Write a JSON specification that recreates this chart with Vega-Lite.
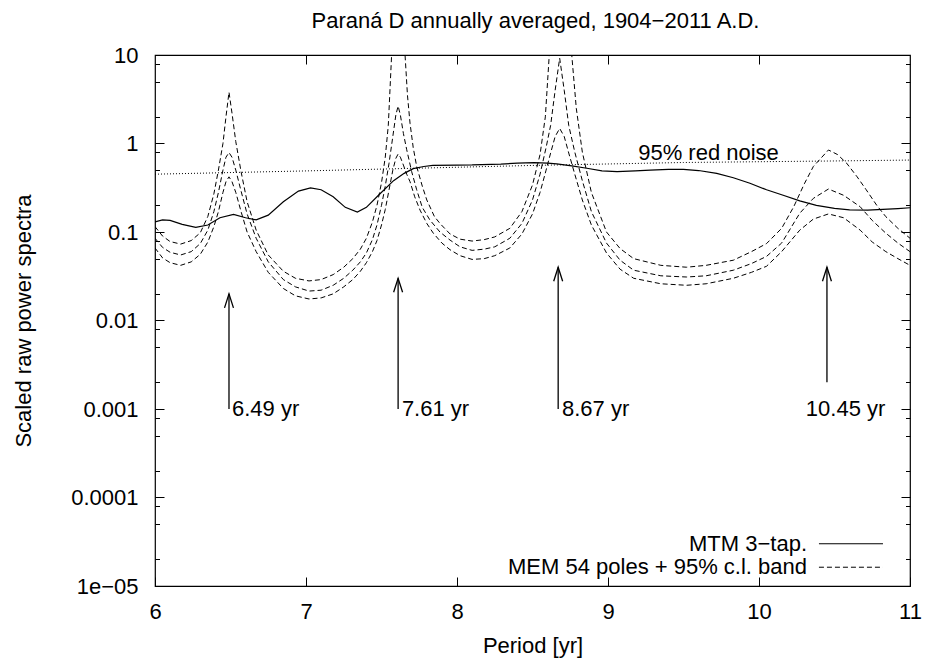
{
  "$schema": "https://vega.github.io/schema/vega-lite/v6.json",
  "width": 755,
  "height": 531,
  "autosize": {"type": "none"},
  "padding": {"left": 155, "top": 55, "right": 16, "bottom": 78},
  "background": "white",
  "title": {"text": "Paraná  D annually averaged, 1904−2011 A.D.", "font": "Liberation Sans", "fontSize": 22, "fontWeight": "normal", "color": "black", "anchor": "middle", "frame": "group", "offset": 11, "dx": 3},
  "config": {
    "font": "Liberation Sans",
    "view": {"stroke": "black", "strokeWidth": 1.2},
    "axis": {"labelFont": "Liberation Sans", "labelFontSize": 22, "labelColor": "black", "tickColor": "black", "tickWidth": 1, "titleFont": "Liberation Sans", "titleFontSize": 22, "titleFontWeight": "normal", "titleColor": "black", "grid": false, "domain": false}
  },
  "datasets": {
    "rednoise": [
      {"p": 6.0, "v": 0.45}, {"p": 7.0, "v": 0.49}, {"p": 7.82, "v": 0.53}, {"p": 8.5, "v": 0.565},
      {"p": 9.5, "v": 0.61}, {"p": 10.5, "v": 0.635}, {"p": 11.0, "v": 0.65}
    ],
    "mtm": [
      {"p": 6.0, "v": 0.13}, {"p": 6.05, "v": 0.137}, {"p": 6.1, "v": 0.135}, {"p": 6.18, "v": 0.122},
      {"p": 6.27, "v": 0.113}, {"p": 6.35, "v": 0.12}, {"p": 6.43, "v": 0.145}, {"p": 6.52, "v": 0.158},
      {"p": 6.6, "v": 0.145}, {"p": 6.67, "v": 0.137}, {"p": 6.75, "v": 0.155}, {"p": 6.85, "v": 0.22},
      {"p": 6.95, "v": 0.29}, {"p": 7.03, "v": 0.315}, {"p": 7.1, "v": 0.3}, {"p": 7.18, "v": 0.25},
      {"p": 7.26, "v": 0.19}, {"p": 7.34, "v": 0.168}, {"p": 7.4, "v": 0.19}, {"p": 7.48, "v": 0.26},
      {"p": 7.58, "v": 0.38}, {"p": 7.65, "v": 0.46}, {"p": 7.71, "v": 0.52}, {"p": 7.78, "v": 0.55},
      {"p": 7.84, "v": 0.565}, {"p": 8.0, "v": 0.57}, {"p": 8.1, "v": 0.572}, {"p": 8.29, "v": 0.586},
      {"p": 8.4, "v": 0.6}, {"p": 8.51, "v": 0.607}, {"p": 8.6, "v": 0.6}, {"p": 8.66, "v": 0.588},
      {"p": 8.76, "v": 0.56}, {"p": 8.86, "v": 0.525}, {"p": 8.96, "v": 0.49}, {"p": 9.06, "v": 0.48},
      {"p": 9.18, "v": 0.49}, {"p": 9.28, "v": 0.5}, {"p": 9.4, "v": 0.51}, {"p": 9.5, "v": 0.51},
      {"p": 9.6, "v": 0.495}, {"p": 9.72, "v": 0.46}, {"p": 9.83, "v": 0.41}, {"p": 9.94, "v": 0.355},
      {"p": 10.05, "v": 0.3}, {"p": 10.16, "v": 0.26}, {"p": 10.27, "v": 0.225}, {"p": 10.38, "v": 0.2},
      {"p": 10.5, "v": 0.185}, {"p": 10.6, "v": 0.178}, {"p": 10.72, "v": 0.177}, {"p": 10.82, "v": 0.18},
      {"p": 10.92, "v": 0.184}, {"p": 11.0, "v": 0.188}
    ],
    "mem": [
      {"band": "upper", "p": 6.0, "v": 0.115}, {"band": "upper", "p": 6.05, "v": 0.09}, {"band": "upper", "p": 6.1, "v": 0.078},
      {"band": "upper", "p": 6.17, "v": 0.073}, {"band": "upper", "p": 6.24, "v": 0.08}, {"band": "upper", "p": 6.3, "v": 0.098},
      {"band": "upper", "p": 6.35, "v": 0.15}, {"band": "upper", "p": 6.39, "v": 0.27}, {"band": "upper", "p": 6.42, "v": 0.5},
      {"band": "upper", "p": 6.45, "v": 1.0}, {"band": "upper", "p": 6.47, "v": 2.0}, {"band": "upper", "p": 6.49, "v": 3.8},
      {"band": "upper", "p": 6.51, "v": 2.2}, {"band": "upper", "p": 6.535, "v": 1.05}, {"band": "upper", "p": 6.57, "v": 0.48},
      {"band": "upper", "p": 6.61, "v": 0.22}, {"band": "upper", "p": 6.67, "v": 0.105}, {"band": "upper", "p": 6.75, "v": 0.055},
      {"band": "upper", "p": 6.85, "v": 0.036}, {"band": "upper", "p": 6.93, "v": 0.03}, {"band": "upper", "p": 7.02, "v": 0.028},
      {"band": "upper", "p": 7.1, "v": 0.029}, {"band": "upper", "p": 7.18, "v": 0.033}, {"band": "upper", "p": 7.25, "v": 0.04},
      {"band": "upper", "p": 7.31, "v": 0.05}, {"band": "upper", "p": 7.36, "v": 0.064}, {"band": "upper", "p": 7.4, "v": 0.085},
      {"band": "upper", "p": 7.44, "v": 0.13}, {"band": "upper", "p": 7.47, "v": 0.2}, {"band": "upper", "p": 7.5, "v": 0.36},
      {"band": "upper", "p": 7.525, "v": 0.7}, {"band": "upper", "p": 7.545, "v": 1.6}, {"band": "upper", "p": 7.567, "v": 10},
      {"band": "upper", "p": 7.59, "v": 40}, {"band": "upper", "p": 7.61, "v": 80}, {"band": "upper", "p": 7.635, "v": 40},
      {"band": "upper", "p": 7.656, "v": 10}, {"band": "upper", "p": 7.672, "v": 3.5}, {"band": "upper", "p": 7.689, "v": 1.69},
      {"band": "upper", "p": 7.71, "v": 0.9}, {"band": "upper", "p": 7.733, "v": 0.55}, {"band": "upper", "p": 7.77, "v": 0.33},
      {"band": "upper", "p": 7.8, "v": 0.23}, {"band": "upper", "p": 7.85, "v": 0.15}, {"band": "upper", "p": 7.887, "v": 0.125},
      {"band": "upper", "p": 7.954, "v": 0.095}, {"band": "upper", "p": 8.02, "v": 0.083}, {"band": "upper", "p": 8.1, "v": 0.079},
      {"band": "upper", "p": 8.18, "v": 0.082}, {"band": "upper", "p": 8.25, "v": 0.088}, {"band": "upper", "p": 8.35, "v": 0.11},
      {"band": "upper", "p": 8.43, "v": 0.17}, {"band": "upper", "p": 8.5, "v": 0.34}, {"band": "upper", "p": 8.55, "v": 0.75},
      {"band": "upper", "p": 8.585, "v": 2.0}, {"band": "upper", "p": 8.611, "v": 10}, {"band": "upper", "p": 8.64, "v": 40},
      {"band": "upper", "p": 8.68, "v": 80}, {"band": "upper", "p": 8.72, "v": 40}, {"band": "upper", "p": 8.76, "v": 10},
      {"band": "upper", "p": 8.79, "v": 2.5}, {"band": "upper", "p": 8.83, "v": 0.8}, {"band": "upper", "p": 8.89, "v": 0.28},
      {"band": "upper", "p": 8.99, "v": 0.1}, {"band": "upper", "p": 9.08, "v": 0.065}, {"band": "upper", "p": 9.17, "v": 0.05},
      {"band": "upper", "p": 9.35, "v": 0.042}, {"band": "upper", "p": 9.52, "v": 0.04}, {"band": "upper", "p": 9.65, "v": 0.042},
      {"band": "upper", "p": 9.83, "v": 0.048}, {"band": "upper", "p": 9.95, "v": 0.06}, {"band": "upper", "p": 10.05, "v": 0.074},
      {"band": "upper", "p": 10.15, "v": 0.11}, {"band": "upper", "p": 10.23, "v": 0.193}, {"band": "upper", "p": 10.3, "v": 0.35},
      {"band": "upper", "p": 10.36, "v": 0.55}, {"band": "upper", "p": 10.46, "v": 0.845}, {"band": "upper", "p": 10.52, "v": 0.75},
      {"band": "upper", "p": 10.58, "v": 0.6}, {"band": "upper", "p": 10.65, "v": 0.42}, {"band": "upper", "p": 10.71, "v": 0.3},
      {"band": "upper", "p": 10.78, "v": 0.2}, {"band": "upper", "p": 10.84, "v": 0.149}, {"band": "upper", "p": 10.92, "v": 0.11},
      {"band": "upper", "p": 11.0, "v": 0.085},

      {"band": "mem", "p": 6.0, "v": 0.085}, {"band": "mem", "p": 6.05, "v": 0.067}, {"band": "mem", "p": 6.1, "v": 0.059},
      {"band": "mem", "p": 6.17, "v": 0.055}, {"band": "mem", "p": 6.24, "v": 0.06}, {"band": "mem", "p": 6.3, "v": 0.074},
      {"band": "mem", "p": 6.35, "v": 0.105}, {"band": "mem", "p": 6.39, "v": 0.17}, {"band": "mem", "p": 6.42, "v": 0.28},
      {"band": "mem", "p": 6.45, "v": 0.5}, {"band": "mem", "p": 6.47, "v": 0.7}, {"band": "mem", "p": 6.49, "v": 0.79},
      {"band": "mem", "p": 6.51, "v": 0.7}, {"band": "mem", "p": 6.535, "v": 0.5}, {"band": "mem", "p": 6.57, "v": 0.29},
      {"band": "mem", "p": 6.61, "v": 0.16}, {"band": "mem", "p": 6.67, "v": 0.085}, {"band": "mem", "p": 6.75, "v": 0.046},
      {"band": "mem", "p": 6.85, "v": 0.029}, {"band": "mem", "p": 6.93, "v": 0.024}, {"band": "mem", "p": 7.02, "v": 0.0215},
      {"band": "mem", "p": 7.1, "v": 0.022}, {"band": "mem", "p": 7.18, "v": 0.025}, {"band": "mem", "p": 7.25, "v": 0.03},
      {"band": "mem", "p": 7.31, "v": 0.037}, {"band": "mem", "p": 7.36, "v": 0.046}, {"band": "mem", "p": 7.4, "v": 0.058},
      {"band": "mem", "p": 7.44, "v": 0.082}, {"band": "mem", "p": 7.47, "v": 0.12}, {"band": "mem", "p": 7.5, "v": 0.2},
      {"band": "mem", "p": 7.525, "v": 0.33}, {"band": "mem", "p": 7.55, "v": 0.6}, {"band": "mem", "p": 7.575, "v": 1.2},
      {"band": "mem", "p": 7.595, "v": 2.1}, {"band": "mem", "p": 7.61, "v": 2.65}, {"band": "mem", "p": 7.625, "v": 2.1},
      {"band": "mem", "p": 7.645, "v": 1.3}, {"band": "mem", "p": 7.667, "v": 0.85}, {"band": "mem", "p": 7.7, "v": 0.48},
      {"band": "mem", "p": 7.733, "v": 0.3}, {"band": "mem", "p": 7.77, "v": 0.19}, {"band": "mem", "p": 7.82, "v": 0.137},
      {"band": "mem", "p": 7.887, "v": 0.1}, {"band": "mem", "p": 7.954, "v": 0.081}, {"band": "mem", "p": 8.02, "v": 0.068},
      {"band": "mem", "p": 8.1, "v": 0.062}, {"band": "mem", "p": 8.18, "v": 0.064}, {"band": "mem", "p": 8.25, "v": 0.068},
      {"band": "mem", "p": 8.35, "v": 0.085}, {"band": "mem", "p": 8.43, "v": 0.125}, {"band": "mem", "p": 8.5, "v": 0.23},
      {"band": "mem", "p": 8.55, "v": 0.45}, {"band": "mem", "p": 8.59, "v": 0.9}, {"band": "mem", "p": 8.62, "v": 1.6},
      {"band": "mem", "p": 8.65, "v": 4.0}, {"band": "mem", "p": 8.68, "v": 9.2}, {"band": "mem", "p": 8.71, "v": 4.0},
      {"band": "mem", "p": 8.74, "v": 1.6}, {"band": "mem", "p": 8.78, "v": 0.8}, {"band": "mem", "p": 8.83, "v": 0.38},
      {"band": "mem", "p": 8.89, "v": 0.17}, {"band": "mem", "p": 8.99, "v": 0.075}, {"band": "mem", "p": 9.08, "v": 0.048},
      {"band": "mem", "p": 9.17, "v": 0.037}, {"band": "mem", "p": 9.35, "v": 0.032}, {"band": "mem", "p": 9.52, "v": 0.031},
      {"band": "mem", "p": 9.65, "v": 0.032}, {"band": "mem", "p": 9.83, "v": 0.037}, {"band": "mem", "p": 9.95, "v": 0.044},
      {"band": "mem", "p": 10.05, "v": 0.053}, {"band": "mem", "p": 10.15, "v": 0.075}, {"band": "mem", "p": 10.27, "v": 0.163},
      {"band": "mem", "p": 10.36, "v": 0.24}, {"band": "mem", "p": 10.46, "v": 0.306}, {"band": "mem", "p": 10.56, "v": 0.26},
      {"band": "mem", "p": 10.67, "v": 0.193}, {"band": "mem", "p": 10.75, "v": 0.135}, {"band": "mem", "p": 10.84, "v": 0.097},
      {"band": "mem", "p": 10.92, "v": 0.075}, {"band": "mem", "p": 11.0, "v": 0.06},

      {"band": "lower", "p": 6.0, "v": 0.066}, {"band": "lower", "p": 6.05, "v": 0.051}, {"band": "lower", "p": 6.1, "v": 0.045},
      {"band": "lower", "p": 6.17, "v": 0.042}, {"band": "lower", "p": 6.24, "v": 0.046}, {"band": "lower", "p": 6.3, "v": 0.056},
      {"band": "lower", "p": 6.35, "v": 0.077}, {"band": "lower", "p": 6.39, "v": 0.115}, {"band": "lower", "p": 6.42, "v": 0.17},
      {"band": "lower", "p": 6.45, "v": 0.28}, {"band": "lower", "p": 6.47, "v": 0.37}, {"band": "lower", "p": 6.49, "v": 0.42},
      {"band": "lower", "p": 6.51, "v": 0.37}, {"band": "lower", "p": 6.535, "v": 0.28}, {"band": "lower", "p": 6.57, "v": 0.17},
      {"band": "lower", "p": 6.61, "v": 0.1}, {"band": "lower", "p": 6.67, "v": 0.06}, {"band": "lower", "p": 6.75, "v": 0.035},
      {"band": "lower", "p": 6.85, "v": 0.023}, {"band": "lower", "p": 6.93, "v": 0.019}, {"band": "lower", "p": 7.02, "v": 0.0175},
      {"band": "lower", "p": 7.1, "v": 0.018}, {"band": "lower", "p": 7.18, "v": 0.02}, {"band": "lower", "p": 7.25, "v": 0.024},
      {"band": "lower", "p": 7.31, "v": 0.029}, {"band": "lower", "p": 7.36, "v": 0.036}, {"band": "lower", "p": 7.4, "v": 0.045},
      {"band": "lower", "p": 7.44, "v": 0.06}, {"band": "lower", "p": 7.47, "v": 0.08}, {"band": "lower", "p": 7.5, "v": 0.12},
      {"band": "lower", "p": 7.525, "v": 0.18}, {"band": "lower", "p": 7.55, "v": 0.3}, {"band": "lower", "p": 7.575, "v": 0.5},
      {"band": "lower", "p": 7.595, "v": 0.68}, {"band": "lower", "p": 7.61, "v": 0.76}, {"band": "lower", "p": 7.625, "v": 0.7},
      {"band": "lower", "p": 7.645, "v": 0.57}, {"band": "lower", "p": 7.667, "v": 0.45}, {"band": "lower", "p": 7.689, "v": 0.37},
      {"band": "lower", "p": 7.72, "v": 0.25}, {"band": "lower", "p": 7.755, "v": 0.177}, {"band": "lower", "p": 7.8, "v": 0.125},
      {"band": "lower", "p": 7.843, "v": 0.097}, {"band": "lower", "p": 7.9, "v": 0.075}, {"band": "lower", "p": 7.954, "v": 0.063},
      {"band": "lower", "p": 8.02, "v": 0.054}, {"band": "lower", "p": 8.1, "v": 0.049}, {"band": "lower", "p": 8.18, "v": 0.05},
      {"band": "lower", "p": 8.25, "v": 0.054}, {"band": "lower", "p": 8.35, "v": 0.066}, {"band": "lower", "p": 8.43, "v": 0.095},
      {"band": "lower", "p": 8.5, "v": 0.16}, {"band": "lower", "p": 8.55, "v": 0.28}, {"band": "lower", "p": 8.59, "v": 0.5},
      {"band": "lower", "p": 8.62, "v": 0.78}, {"band": "lower", "p": 8.65, "v": 1.2}, {"band": "lower", "p": 8.68, "v": 1.48},
      {"band": "lower", "p": 8.71, "v": 1.2}, {"band": "lower", "p": 8.74, "v": 0.78}, {"band": "lower", "p": 8.78, "v": 0.45},
      {"band": "lower", "p": 8.83, "v": 0.23}, {"band": "lower", "p": 8.89, "v": 0.12}, {"band": "lower", "p": 8.99, "v": 0.058},
      {"band": "lower", "p": 9.08, "v": 0.038}, {"band": "lower", "p": 9.17, "v": 0.03}, {"band": "lower", "p": 9.35, "v": 0.026},
      {"band": "lower", "p": 9.52, "v": 0.025}, {"band": "lower", "p": 9.65, "v": 0.026}, {"band": "lower", "p": 9.83, "v": 0.03},
      {"band": "lower", "p": 9.95, "v": 0.035}, {"band": "lower", "p": 10.05, "v": 0.041}, {"band": "lower", "p": 10.15, "v": 0.06},
      {"band": "lower", "p": 10.27, "v": 0.105}, {"band": "lower", "p": 10.36, "v": 0.14}, {"band": "lower", "p": 10.46, "v": 0.16},
      {"band": "lower", "p": 10.56, "v": 0.145}, {"band": "lower", "p": 10.67, "v": 0.105}, {"band": "lower", "p": 10.75, "v": 0.077},
      {"band": "lower", "p": 10.84, "v": 0.06}, {"band": "lower", "p": 10.92, "v": 0.05}, {"band": "lower", "p": 11.0, "v": 0.042}
    ],
    "arrows": [
      {"p": 6.49, "from": 0.001, "to": 0.02, "label": "6.49 yr", "lx": 6.51, "ly": 0.001},
      {"p": 7.61, "from": 0.001, "to": 0.03, "label": "7.61 yr", "lx": 7.635, "ly": 0.001},
      {"p": 8.67, "from": 0.001, "to": 0.04, "label": "8.67 yr", "lx": 8.695, "ly": 0.001},
      {"p": 10.45, "from": 0.002, "to": 0.04, "label": "10.45 yr", "lx": 10.31, "ly": 0.001}
    ]
  },
  "resolve": {"scale": {"x": "shared", "y": "shared"}, "axis": {"x": "independent", "y": "independent"}},
  "layer": [
    {
      "data": {"name": "rednoise"},
      "mark": {"type": "line", "color": "black", "strokeWidth": 1, "strokeDash": [1, 2], "clip": true},
      "encoding": {
        "x": {"field": "p", "type": "quantitative", "scale": {"domain": [6, 11], "nice": false, "zero": false},
          "axis": {"orient": "bottom", "values": [6, 7, 8, 9, 10, 11], "format": "d", "tickSize": -9, "labelPadding": 24.5, "labelFlush": false, "labelOverlap": false, "labelBound": false, "title": "Period [yr]", "titleY": 59, "titleBaseline": "middle"}},
        "y": {"field": "v", "type": "quantitative", "scale": {"type": "log", "domain": [0.00001, 10], "nice": false},
          "axis": {"orient": "left", "values": [0.00001, 0.0001, 0.001, 0.01, 0.1, 1, 10], "tickSize": -9, "labelPadding": 26, "labelFlush": false, "labelOverlap": false, "labelBound": false, "labelExpr": "datum.value < 0.00005 ? '1e−05' : format(datum.value, '~g')", "title": "Scaled raw power spectra", "titleX": -132, "titleY": 265.5, "titleAngle": -90, "titleBaseline": "middle", "titleAlign": "center"}}
      }
    },
    {
      "data": {"name": "mtm"},
      "mark": {"type": "line", "color": "black", "strokeWidth": 1.2, "clip": true},
      "encoding": {
        "x": {"field": "p", "type": "quantitative", "scale": {"domain": [6, 11], "nice": false, "zero": false},
          "axis": {"orient": "top", "values": [7, 8, 9, 10], "tickSize": -9, "labels": false, "title": null}},
        "y": {"field": "v", "type": "quantitative", "scale": {"type": "log", "domain": [0.00001, 10], "nice": false},
          "axis": {"orient": "right", "values": [0.0001, 0.001, 0.01, 0.1, 1], "tickSize": -9, "labels": false, "title": null}}
      }
    },
    {
      "data": {"name": "mem"},
      "mark": {"type": "line", "color": "black", "strokeWidth": 1, "strokeDash": [5, 3], "clip": true},
      "encoding": {
        "detail": {"field": "band"},
        "x": {"field": "p", "type": "quantitative", "scale": {"domain": [6, 11], "nice": false, "zero": false}, "axis": null},
        "y": {"field": "v", "type": "quantitative", "scale": {"type": "log", "domain": [0.00001, 10], "nice": false},
          "axis": {"orient": "left", "values": [0.00002, 0.00005, 0.00008, 0.0002, 0.0005, 0.0008, 0.002, 0.005, 0.008, 0.02, 0.05, 0.08, 0.2, 0.5, 0.8, 2, 5, 8], "tickSize": -4.5, "labels": false, "title": null}}
      }
    },
    {
      "data": {"name": "arrows"},
      "mark": {"type": "rule", "color": "black", "strokeWidth": 1.3},
      "encoding": {
        "x": {"field": "p", "type": "quantitative", "scale": {"domain": [6, 11], "nice": false, "zero": false}, "axis": null},
        "y": {"field": "from", "type": "quantitative", "scale": {"type": "log", "domain": [0.00001, 10], "nice": false},
          "axis": {"orient": "right", "values": [0.00002, 0.00005, 0.00008, 0.0002, 0.0005, 0.0008, 0.002, 0.005, 0.008, 0.02, 0.05, 0.08, 0.2, 0.5, 0.8, 2, 5, 8], "tickSize": -4.5, "labels": false, "title": null}},
        "y2": {"field": "to"}
      }
    },
    {
      "data": {"name": "arrows"},
      "mark": {"type": "point", "shape": "M -0.32 1 L 0 0 L 0.32 1", "filled": false, "stroke": "black", "strokeWidth": 1.3, "size": 784, "opacity": 1},
      "encoding": {
        "x": {"field": "p", "type": "quantitative", "scale": {"domain": [6, 11], "nice": false, "zero": false}, "axis": null},
        "y": {"field": "to", "type": "quantitative", "scale": {"type": "log", "domain": [0.00001, 10], "nice": false}, "axis": null}
      }
    },
    {
      "data": {"name": "arrows"},
      "mark": {"type": "text", "color": "black", "font": "Liberation Sans", "fontSize": 22, "align": "left", "baseline": "middle"},
      "encoding": {
        "x": {"field": "lx", "type": "quantitative", "scale": {"domain": [6, 11], "nice": false, "zero": false}, "axis": null},
        "y": {"field": "ly", "type": "quantitative", "scale": {"type": "log", "domain": [0.00001, 10], "nice": false}, "axis": null},
        "text": {"field": "label"}
      }
    },
    {
      "data": {"values": [{}]},
      "mark": {"type": "text", "color": "black", "font": "Liberation Sans", "fontSize": 22, "align": "left", "baseline": "middle"},
      "encoding": {
        "x": {"datum": 9.2, "type": "quantitative", "scale": {"domain": [6, 11], "nice": false, "zero": false}, "axis": null},
        "y": {"datum": 0.79, "type": "quantitative", "scale": {"type": "log", "domain": [0.00001, 10], "nice": false}, "axis": null},
        "text": {"value": "95% red noise"}
      }
    },
    {
      "data": {"values": [{}]},
      "mark": {"type": "text", "color": "black", "font": "Liberation Sans", "fontSize": 22, "align": "right", "baseline": "middle"},
      "encoding": {
        "x": {"datum": 10.318, "type": "quantitative", "scale": {"domain": [6, 11], "nice": false, "zero": false}, "axis": null},
        "y": {"datum": 0.00003, "type": "quantitative", "scale": {"type": "log", "domain": [0.00001, 10], "nice": false}, "axis": null},
        "text": {"value": "MTM 3−tap."}
      }
    },
    {
      "data": {"values": [{}]},
      "mark": {"type": "text", "color": "black", "font": "Liberation Sans", "fontSize": 22, "align": "right", "baseline": "middle"},
      "encoding": {
        "x": {"datum": 10.318, "type": "quantitative", "scale": {"domain": [6, 11], "nice": false, "zero": false}, "axis": null},
        "y": {"datum": 0.0000163, "type": "quantitative", "scale": {"type": "log", "domain": [0.00001, 10], "nice": false}, "axis": null},
        "text": {"value": "MEM 54 poles + 95% c.l. band"}
      }
    },
    {
      "data": {"values": [{}]},
      "mark": {"type": "rule", "color": "black", "strokeWidth": 1.2},
      "encoding": {
        "x": {"datum": 10.397, "type": "quantitative", "scale": {"domain": [6, 11], "nice": false, "zero": false}, "axis": null},
        "x2": {"datum": 10.821},
        "y": {"datum": 0.00003, "type": "quantitative", "scale": {"type": "log", "domain": [0.00001, 10], "nice": false}, "axis": null}
      }
    },
    {
      "data": {"values": [{}]},
      "mark": {"type": "rule", "color": "black", "strokeWidth": 1, "strokeDash": [5, 3]},
      "encoding": {
        "x": {"datum": 10.397, "type": "quantitative", "scale": {"domain": [6, 11], "nice": false, "zero": false}, "axis": null},
        "x2": {"datum": 10.821},
        "y": {"datum": 0.0000163, "type": "quantitative", "scale": {"type": "log", "domain": [0.00001, 10], "nice": false}, "axis": null}
      }
    }
  ]
}
